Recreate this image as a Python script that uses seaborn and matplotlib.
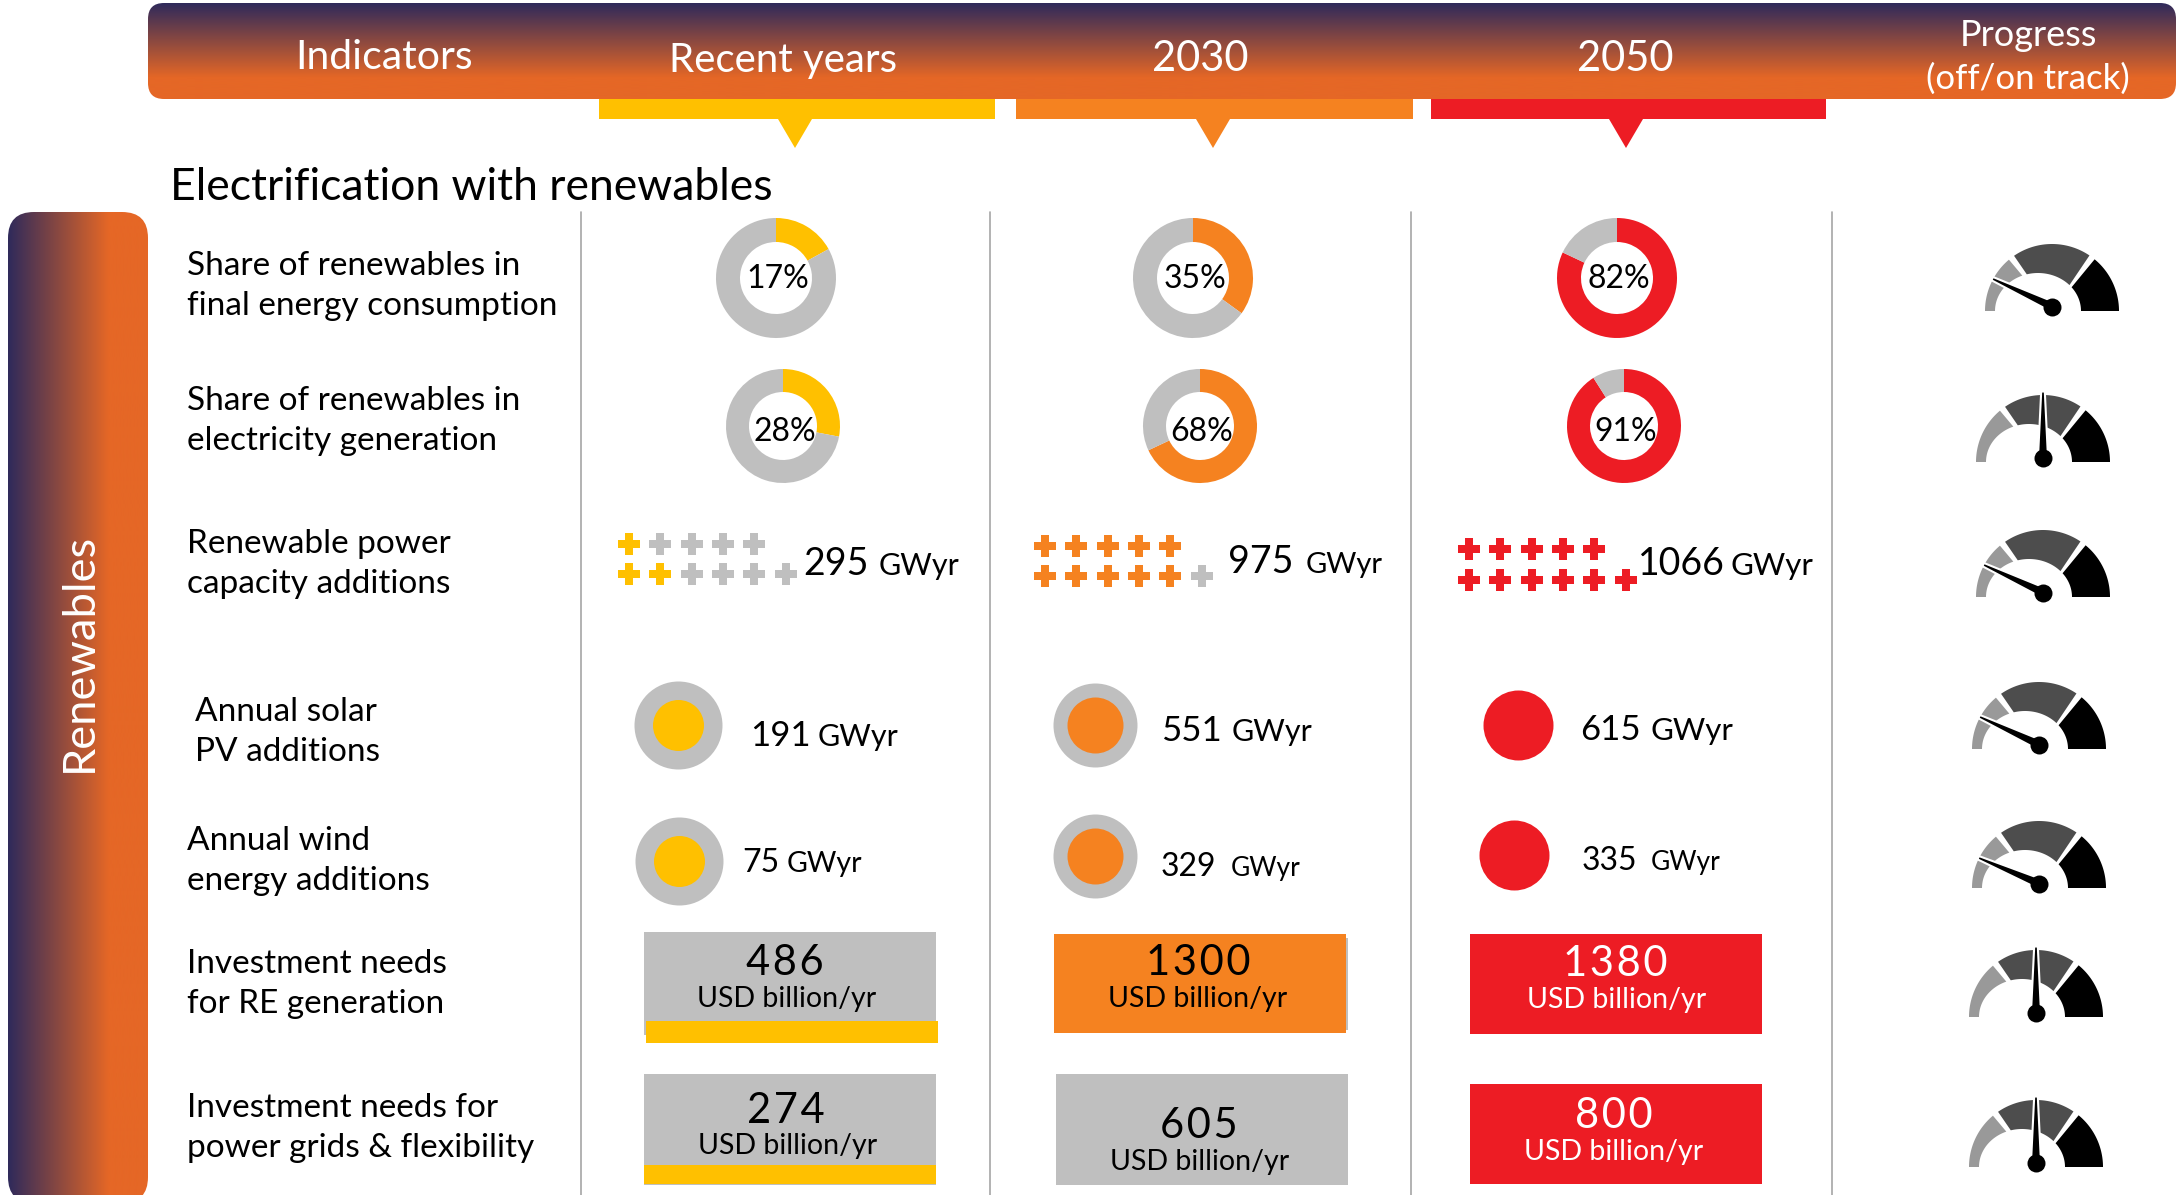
import matplotlib
matplotlib.use("Agg")
import matplotlib.pyplot as plt
from matplotlib.colors import LinearSegmentedColormap
from matplotlib.patches import FancyBboxPatch
import numpy as np
import seaborn as sns

# values
headers = ["Indicators", "Recent years", "2030", "2050"]
progress_header = ["Progress", "(off/on track)"]
section_title = "Electrification with renewables"
side_label = "Renewables"
indicators = [
    ["Share of renewables in", "final energy consumption"],
    ["Share of renewables in", "electricity generation"],
    ["Renewable power", "capacity additions"],
    ["Annual solar", "PV additions"],
    ["Annual wind", "energy additions"],
    ["Investment needs", "for RE generation"],
    ["Investment needs for", "power grids & flexibility"],
]
final_energy_share = [17, 35, 82]
electricity_share = [28, 68, 91]
capacity_gwyr = [295, 975, 1066]
capacity_plus_on = [3, 10, 11]
solar_gwyr = [191, 551, 615]
wind_gwyr = [75, 329, 335]
invest_re = [486, 1300, 1380]
invest_grid = [274, 605, 800]
needle_angle = [155, 90, 155, 155, 157, 90, 90]

# layout, in reference pixels
W, H = 2176, 1195
NAVY, ORANGE = "#2f2a5b", "#e56726"
YELLOW, MID_ORANGE, RED = "#ffc000", "#f58220", "#ed1c24"
GREY = "#bfbfbf"
COLS = [YELLOW, MID_ORANGE, RED]
FONT = ["Lato", "DejaVu Sans"]
HAIR = "\u200a"

sns.set_theme(style="white")
plt.rcParams["font.family"] = FONT

fig = plt.figure(figsize=(W / 100, H / 100), dpi=100)
ax = fig.add_axes([0, 0, 1, 1])
ax.set_xlim(0, W)
ax.set_ylim(H, 0)
ax.axis("off")

cmap = LinearSegmentedColormap.from_list("band", [NAVY, ORANGE])


def px_size(radius):
    return (2 * radius * 0.72) ** 2


def gradient_box(x0, y0, x1, y1, r, stop, vertical):
    # stop is where the gradient reaches full orange
    patch = FancyBboxPatch((x0 + r, y0 + r), x1 - x0 - 2 * r, y1 - y0 - 2 * r,
                           boxstyle=f"round,pad={r},rounding_size={r}",
                           linewidth=0, facecolor="none", zorder=1)
    ax.add_patch(patch)
    if vertical:
        ramp = np.clip((np.linspace(y0, y1, 300) - y0) / (stop - y0), 0, 1)[:, None]
    else:
        ramp = np.clip((np.linspace(x0, x1, 300) - x0) / (stop - x0), 0, 1)[None, :]
    img = ax.imshow(ramp, cmap=cmap, vmin=0, vmax=1, aspect="auto",
                    extent=(x0, x1, y1, y0), origin="upper", zorder=1)
    img.set_clip_path(patch)


def label(x, y, s, size, color="black", ha="left", va="baseline", **kw):
    ax.text(x, y, s, fontsize=size, color=color, ha=ha, va=va, zorder=6, **kw)


# header band and side band
gradient_box(148, 3, W, 99, 16, 78, True)
gradient_box(8, 212, 148, 1203, 26, 109, False)

header_pos = [(384, 57), (783, 60), (1200, 59), (1625, 59)]
header_size = [29.5, 29, 30, 30]
for text, (x, y), size in zip(headers, header_pos, header_size):
    label(x, y, text, size, "white", "center", "center")
label(2028, 35, progress_header[0], 26, "white", "center", "center")
label(2028, 79, progress_header[1], 25, "white", "center", "center")
label(79, 652, side_label, 32.6, "white", "center", "center", rotation=90)

# coloured bars with pointers under the header
tabs = [(599, 995, 795), (1016, 1413, 1213), (1431, 1826, 1626)]
for (x0, x1, tip), col in zip(tabs, COLS):
    ax.fill([x0, x1, x1, x0], [99, 99, 119, 119], color=col, lw=0, zorder=2)
    ax.fill([tip - 17, tip + 17, tip], [119, 119, 148], color=col, lw=0, zorder=2)

label(170, 200, section_title, 32)

for x in [581, 990, 1411, 1832]:
    ax.plot([x, x], [212, H], color="#a6a6a6", lw=1.2, zorder=2)

# indicator names
name_pos = [(187, 263), (187, 398), (187, 541), (195, 709), (187, 838), (187, 961), (187, 1105)]
for lines, (x, y) in zip(indicators, name_pos):
    label(x, y + 12, lines[0], 24)
    label(x, y + 52, lines[1], 24)


# donuts
def donut(value, cx, cy, r, hole, col):
    ax.pie([value, 100 - value], colors=[col, GREY], startangle=-90, counterclock=True,
           center=(cx, cy), radius=r, frame=True,
           wedgeprops={"width": r - hole, "linewidth": 0, "zorder": 3})


for values, xs, cy, r, hole, ty in [
    (final_energy_share, [776, 1193, 1617], 278, 60, 36, 279),
    (electricity_share, [783, 1200, 1624], 426, 57, 34, 432),
]:
    for value, cx, col in zip(values, xs, COLS):
        donut(value, cx, cy, r, hole, col)
        label(cx + 2, ty, f"{value}%", 23, ha="center", va="center")

# plus signs, filled column by column from the bottom row
plus_start = [(629, 544, 29.5), (1045, 546, 29.5), (1469, 549, 30.5)]
for count, (x0, y0, row_gap), col in zip(capacity_plus_on, plus_start, COLS):
    cells = []
    for c in range(6):
        cells.append((c, 1))
        if c < 5:
            cells.append((c, 0))
    for i, color in enumerate([col, GREY]):
        part = cells[:count] if i == 0 else cells[count:]
        if part:
            sns.scatterplot(x=[x0 + c * 31.3 for c, _ in part],
                            y=[y0 + row * row_gap for _, row in part],
                            marker="P", s=px_size(11.5), color=color, linewidth=0,
                            legend=False, ax=ax, zorder=3)


# number + unit labels
def amount(value, x, x_unit, y, size, unit_size):
    label(x, y, str(value), size)
    label(x_unit, y, "GWyr", unit_size)


for value, x, xu, y, us in zip(capacity_gwyr, [803, 1228, 1638], [879, 1306, 1731], [575, 573, 575], [22, 21, 22.5]):
    amount(value, x, xu, y, 27, us)
for value, x, xu, y, us in zip(solar_gwyr, [750, 1161, 1580], [818, 1232, 1651], [746, 741, 740], [22, 22, 22.5]):
    amount(value, x, xu, y, 25, us)
for value, x, xu, y, us in zip(wind_gwyr, [742, 1161, 1582], [787, 1231, 1651], [872, 876, 870], [20.5, 19, 19]):
    amount(value, x, xu, y, 23, us)

# nested circles for solar and wind
rings = [
    (678, 725, 44, 25.5, YELLOW), (1095, 725, 42, 28, MID_ORANGE), (1518, 725, 0, 35, RED),
    (679, 861, 44, 25.5, YELLOW), (1095, 856, 42, 28, MID_ORANGE), (1514, 855, 0, 35, RED),
]
for cx, cy, outer, inner, col in rings:
    if outer:
        sns.scatterplot(x=[cx], y=[cy], s=px_size(outer), color=GREY, linewidth=0,
                        legend=False, ax=ax, zorder=3)
    sns.scatterplot(x=[cx], y=[cy], s=px_size(inner), color=col, linewidth=0,
                    legend=False, ax=ax, zorder=4)


# investment boxes
def box(x0, y0, x1, y1, col, z=3):
    ax.fill([x0, x1, x1, x0], [y0, y0, y1, y1], color=col, lw=0, zorder=z)


box(644, 932, 936, 1035, GREY)
box(646, 1021, 938, 1043, YELLOW, 4)
box(1056, 938, 1348, 1030, GREY)
box(1054, 934, 1346, 1033, MID_ORANGE, 4)
box(1470, 934, 1762, 1034, RED)
box(644, 1074, 936, 1185, GREY)
box(644, 1165, 936, 1184, YELLOW, 4)
box(1056, 1074, 1348, 1185, GREY)
box(1470, 1084, 1762, 1184, RED)

box_text = [
    (invest_re[0], 785, 975, 787, 1007, "black"),
    (invest_re[1], 1198, 975, 1198, 1007, "black"),
    (invest_re[2], 1615, 976, 1617, 1008, "white"),
    (invest_grid[0], 786, 1123, 788, 1154, "black"),
    (invest_grid[1], 1199, 1138, 1200, 1170, "black"),
    (invest_grid[2], 1614, 1128, 1614, 1160, "white"),
]
for value, x, y, xu, yu, col in box_text:
    label(x, y, HAIR.join(str(value)), 30, col, "center")
    label(xu, yu, "USD billion/yr", 20.5, col, "center")


# gauges
def gauge_ring(cx, cy, a0, a1, col):
    t = np.radians(np.linspace(a0, a1, 40))
    dx, dy = np.cos(t), np.sin(t)
    # inner edge is an off-centre ellipse: ray from the centre to that ellipse
    a = (dx / 43) ** 2 + (dy / 38) ** 2
    b = 2 * 14 * dx / 43 ** 2
    c = (14 / 43) ** 2 - 1
    rin = (-b + np.sqrt(b * b - 4 * a * c)) / (2 * a)
    xs = np.r_[cx + 67 * dx, (cx + rin * dx)[::-1]]
    ys = np.r_[cy - 67 * dy, (cy - rin * dy)[::-1]]
    ax.fill(xs, ys, color=col, lw=0, zorder=3)


gauge_pos = [(2052, 311), (2043, 462), (2043, 597), (2039, 749), (2039, 888), (2036, 1017), (2036, 1167)]
for (cx, cy), angle in zip(gauge_pos, needle_angle):
    gauge_ring(cx, cy, 180, 130, "#999999")
    gauge_ring(cx, cy, 124.5, 56, "#4d4d4d")
    gauge_ring(cx, cy, 50.5, 0, "black")
    hx, hy = cx, cy - 4.5
    t = np.radians(angle)
    ux, uy = np.cos(t), -np.sin(t)
    nx, ny = -uy, ux
    tipx, tipy = hx + 66 * ux, hy + 66 * uy
    ax.fill([hx + 5 * nx, tipx + 1.8 * nx, tipx - 1.8 * nx, hx - 5 * nx],
            [hy + 5 * ny, tipy + 1.8 * ny, tipy - 1.8 * ny, hy - 5 * ny],
            facecolor="black", edgecolor="white", lw=1.5, zorder=4)
    sns.scatterplot(x=[hx], y=[hy], s=px_size(9), color="black", linewidth=0,
                    legend=False, ax=ax, zorder=5)

ax.set_xlim(0, W)
ax.set_ylim(H, 0)
fig.savefig("out.png", dpi=100)
